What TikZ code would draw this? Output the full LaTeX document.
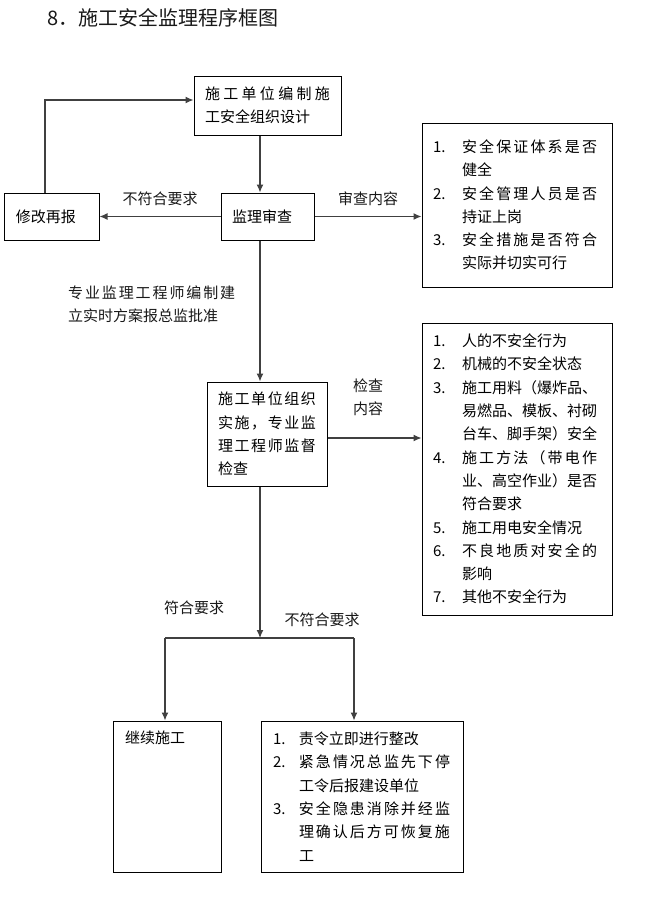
\documentclass[tikz,border=0pt]{standalone}
\usepackage{fontspec}
\newfontfamily\cjk{Noto Sans CJK SC}
\usetikzlibrary{arrows.meta}
\tikzset{>={Latex[length=8pt,width=7pt]}}
\makeatletter
\newcommand{\spread}[2]{\makebox[#1][s]{\@tfor\sp@ch:=#2\do{\sp@ch\hfil}\unskip}}
\makeatother
\newcommand{\itm}[2][29pt]{\makebox[#1][l]{#2}}
\newcommand{\cnt}[1][29pt]{\hspace*{#1}}
\tikzset{
  box/.style={draw, line width=1pt, inner sep=0pt, align=left,
    font=\cjk\fontsize{15pt}{23.3pt}\selectfont},
  tag/.style={inner sep=0pt, align=left, text=black!90,
    font=\cjk\fontsize{15pt}{23.3pt}\selectfont},
  link/.style={->, line width=1.2pt, black!75},
  wire/.style={line width=1.2pt, black!75}
}

\begin{document}
\begin{tikzpicture}[x=1pt,y=-1pt]
  \path[use as bounding box, fill=white] (0,0) rectangle (656,910);
  \node[tag, anchor=west, font=\cjk\fontsize{20pt}{24pt}\selectfont] (title) at (47,18) {8．施工安全监理程序框图};

  \node[box, minimum width=147pt, minimum height=59pt, text width=125pt] (design) at (267.5,105.5)
    {\spread{125pt}{施工单位编制施}\\工安全组织设计};
  \node[box, minimum width=93pt, minimum height=47pt, text width=71pt] (review) at (267.5,216.5) {监理审查};
  \node[box, minimum width=95pt, minimum height=47pt, text width=71pt] (revise) at (51.5,216.5) {修改再报};
  \node[box, minimum width=190pt, minimum height=164pt, text width=168pt] (auditlist) at (517,205)
    {\itm{1.}\spread{135pt}{安全保证体系是否}\\
     \cnt 健全\\
     \itm{2.}\spread{135pt}{安全管理人员是否}\\
     \cnt 持证上岗\\
     \itm{3.}\spread{135pt}{安全措施是否符合}\\
     \cnt 实际并切实可行};
  \node[box, minimum width=120pt, minimum height=104pt, text width=98pt] (execute) at (267,434)
    {\spread{98pt}{施工单位组织}\\
     \spread{98pt}{实施，专业监}\\
     \spread{98pt}{理工程师监督}\\
     检查};
  \node[box, minimum width=190pt, minimum height=292pt, text width=168pt] (checklist) at (517,469)
    {\itm{1.}人的不安全行为\\
     \itm{2.}机械的不安全状态\\
     \itm{3.}\spread{135pt}{施工用料（爆炸品、}\\
     \cnt\spread{135pt}{易燃品、模板、衬砌}\\
     \cnt\spread{135pt}{台车、脚手架）安全}\\
     \itm{4.}\spread{135pt}{施工方法（带电作}\\
     \cnt\spread{135pt}{业、高空作业）是否}\\
     \cnt 符合要求\\
     \itm{5.}施工用电安全情况\\
     \itm{6.}\spread{135pt}{不良地质对安全的}\\
     \cnt 影响\\
     \itm{7.}其他不安全行为};
  \node[box, minimum width=108pt, minimum height=151pt, text width=84pt,
    text height=22pt, text depth=129pt] (resume) at (167,796.5) {继续施工};
  \node[box, minimum width=202pt, minimum height=151pt, text width=178pt] (rectify) at (362,796.5)
    {\itm[26pt]{1.}责令立即进行整改\\
     \itm[26pt]{2.}\spread{151pt}{紧急情况总监先下停}\\
     \cnt[26pt]工令后报建设单位\\
     \itm[26pt]{3.}\spread{151pt}{安全隐患消除并经监}\\
     \cnt[26pt]\spread{151pt}{理确认后方可恢复施}\\
     \cnt[26pt]工};

  \node[tag, anchor=west] (plan) at (68,304)
    {\spread{167pt}{专业监理工程师编制建}\\立实时方案报总监批准};
  \node[tag] (checklabel) at (368,397.5) {检查\\内容};
  \node[tag] (pass) at (194,608) {符合要求};
  \node[tag] (fail) at (322,620) {不符合要求};

  \coordinate (spine) at (260,0);
  \coordinate (back) at (45,100);
  \coordinate (fork) at (260,638);
  \coordinate (leftfork) at (165,638);
  \coordinate (rightfork) at (354,638);

  \draw[link] (design.south -| spine) -- (review.north -| spine);
  \draw[link] (review.west) -- node[tag, above=10pt] (reject) {不符合要求} (revise.east);
  \draw[link] (review.east) -- node[tag, above=10pt] (auditlabel) {审查内容} (review.east -| auditlist.west);
  \draw[link] (revise.north -| back) |- (design.west |- back);
  \draw[link] (review.south -| spine) -- (execute.north -| spine);
  \draw[link] ([yshift=-4pt]execute.east) -- ([yshift=-4pt]execute.east -| checklist.west);
  \draw[link] (execute.south -| spine) -- (fork);
  \draw[wire] (leftfork) -- (rightfork);
  \draw[link] (leftfork) -- (leftfork |- resume.north);
  \draw[link] (rightfork) -- (rightfork |- rectify.north);
\end{tikzpicture}
\end{document}
